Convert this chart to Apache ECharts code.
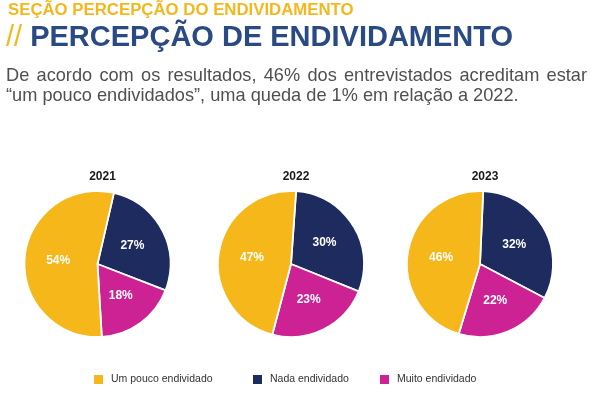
<!DOCTYPE html>
<html>
<head>
<meta charset="utf-8">
<script src="https://cdn.jsdelivr.net/npm/echarts@6/dist/echarts.min.js"></script>
<style>
  html, body { margin: 0; padding: 0; background: #fff; }
  #wrap { position: relative; width: 598px; height: 408px; overflow: hidden; font-family: "Liberation Sans", Arial, sans-serif; }
  #chart { position: absolute; left: 0; top: 0; width: 598px; height: 408px; }
  .sec { position: absolute; left: 8px; top: 2px; font-size: 16.8px; line-height: 1; font-weight: bold; color: #f4b81e; white-space: nowrap; }
  .ttl { position: absolute; left: 6px; top: 21.5px; font-size: 29px; line-height: 1; font-weight: bold; color: #2a4a84; white-space: nowrap; }
  .ttl span { color: #f4b81e; font-weight: normal; }
  .txt { position: absolute; left: 6px; width: 581px; font-size: 18.2px; line-height: 20px; color: #505050; white-space: nowrap; }
  .l1 { top: 65.4px; text-align: justify; text-align-last: justify; }
  .l2 { top: 85.4px; }
</style>
</head>
<body>
<div id="wrap">
  <div id="chart"></div>
  <div class="sec">SEÇÃO PERCEPÇÃO DO ENDIVIDAMENTO</div>
  <div class="ttl"><span>//</span> PERCEPÇÃO DE ENDIVIDAMENTO</div>
  <div class="txt l1" style="white-space: normal;">De acordo com os resultados, 46% dos entrevistados acreditam estar</div>
  <div class="txt l2">“um pouco endividados”, uma queda de 1% em relação a 2022.</div>
</div>
<script>
// dados
var years = ['2021', '2022', '2023'];
var categories = ['Um pouco endividado', 'Nada endividado', 'Muito endividado'];
var umPouco = [54, 47, 46];
var nada = [27, 30, 32];
var muito = [18, 23, 22];

var colors = {
  'Um pouco endividado': '#f5b719',
  'Nada endividado': '#1e2b5e',
  'Muito endividado': '#cc2294'
};

var centersX = [97.5, 291, 480];
var startAngles = [77, 86, 87.5];

var series = [];
var titles = [];
years.forEach(function (y, i) {
  titles.push({
    text: y,
    left: centersX[i],
    top: 166,
    textAlign: 'center',
    textStyle: { fontSize: 12, fontWeight: 'bold', color: '#1a1a1a', fontFamily: 'Liberation Sans' }
  });
  series.push({
    type: 'pie',
    name: y,
    center: [centersX[i], 264],
    radius: 73,
    startAngle: startAngles[i],
    clockwise: true,
    silent: true,
    label: {
      show: true,
      position: 'inside',
      formatter: '{c}%',
      color: '#fff',
      fontSize: 12,
      fontWeight: 'bold',
      fontFamily: 'Liberation Sans'
    },
    labelLine: { show: false },
    itemStyle: { borderColor: '#fff', borderWidth: 1.8 },
    data: [
      { name: categories[1], value: nada[i], itemStyle: { color: colors[categories[1]] } },
      { name: categories[2], value: muito[i], itemStyle: { color: colors[categories[2]] } },
      { name: categories[0], value: umPouco[i], itemStyle: { color: colors[categories[0]] } }
    ]
  });
});

var legendLeft = [92, 251, 378];
var legends = categories.map(function (c, i) {
  return {
    data: [c],
    left: legendLeft[i],
    top: 373,
    icon: 'rect',
    itemWidth: 11,
    itemHeight: 11,
    itemGap: 7,
    selectedMode: false,
    padding: 0,
    textStyle: { fontSize: 10.5, color: '#333', fontFamily: 'Liberation Sans', padding: [0, 0, 0, 2] }
  };
});

var myChart = echarts.init(document.getElementById('chart'));
myChart.setOption({
  animation: false,
  title: titles,
  legend: legends,
  series: series
});
</script>
</body>
</html>
